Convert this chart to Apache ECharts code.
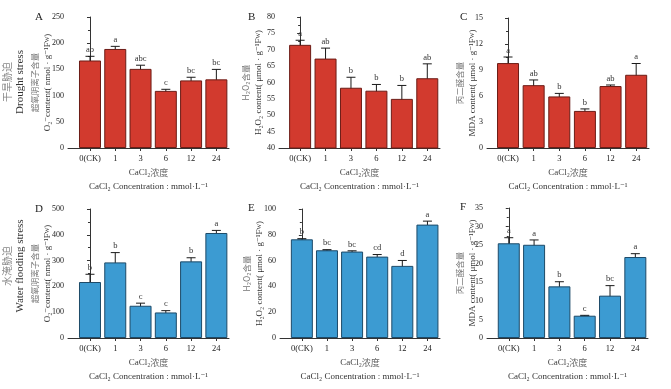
<!DOCTYPE html>
<html><head><meta charset="utf-8">
<script src="https://cdn.jsdelivr.net/npm/echarts@6/dist/echarts.min.js"></script>
<style>html,body{margin:0;padding:0;background:#fff}#c{width:671px;height:389px}</style>
</head><body><div id="c"></div>
<script>
// ---- data ----
const categories = ['0(CK)', '1', '3', '6', '12', '24'];

const droughtO2 = [167, 189, 151, 109, 129, 131];
const droughtO2Err = [8, 5, 7, 3, 6, 19];
const droughtO2Sig = ['ab', 'a', 'abc', 'c', 'bc', 'bc'];

const droughtH2O2 = [71.5, 67.3, 58.4, 57.5, 55.0, 61.3];
const droughtH2O2Err = [1.4, 3.2, 3.2, 1.9, 4.1, 4.4];
const droughtH2O2Sig = ['a', 'ab', 'b', 'b', 'b', 'ab'];

const droughtMDA = [9.8, 7.25, 5.95, 4.28, 7.15, 8.45];
const droughtMDAErr = [0.7, 0.6, 0.35, 0.23, 0.12, 1.3];
const droughtMDASig = ['a', 'ab', 'b', 'b', 'ab', 'a'];

const floodO2 = [217, 293, 125, 99, 297, 407];
const floodO2Err = [30, 38, 10, 7, 14, 10];
const floodO2Sig = ['b', 'b', 'c', 'c', 'b', 'a'];

const floodH2O2 = [76.5, 68.0, 67.0, 63.1, 55.9, 87.9];
const floodH2O2Err = [0.5, 0.5, 0.6, 1.6, 4.2, 2.7];
const floodH2O2Sig = ['b', 'bc', 'bc', 'cd', 'd', 'a'];

const floodMDA = [25.5, 25.1, 13.9, 6.0, 11.4, 21.8];
const floodMDAErr = [1.5, 1.3, 1.25, 0.1, 2.7, 0.9];
const floodMDASig = ['a', 'a', 'b', 'c', 'bc', 'a'];

const panelLetters = ['A', 'B', 'C', 'D', 'E', 'F'];
const yNameCn = ['超氧阴离子含量', 'H₂O₂含量', '丙二醛含量', '超氧阴离子含量', 'H₂O₂含量', '丙二醛含量'];
const yNameEn = ['O₂⁻content( nmol · g⁻¹F', 'H₂O₂ content( μmol · g⁻¹F', 'MDA content( μmol · g⁻¹F',
                 'O₂⁻content( nmol · g⁻¹F', 'H₂O₂ content( μmol · g⁻¹F', 'MDA content( μmol · g⁻¹F'];
const yMin = [0, 40, 0, 0, 0, 0];
const yMax = [250, 80, 15, 500, 100, 35];
const yInterval = [50, 5, 3, 100, 20, 5];

// ---- layout / style ----
const RED = '#d23a2e', RED_BORDER = '#6b1c16';
const BLUE = '#3c9bd2', BLUE_BORDER = '#1d4a68';
const SERIF = '"Liberation Serif", "DejaVu Serif", serif';
const CJK = '"Noto Sans CJK SC", sans-serif';

const panels = [
  {vals: droughtO2, err: droughtO2Err, sig: droughtO2Sig, color: RED, border: RED_BORDER, left: 68, top: 17, width: 161, height: 131, xmin: -0.87, lx: 35, ly: 12, ng: 14},
  {vals: droughtH2O2, err: droughtH2O2Err, sig: droughtH2O2Sig, color: RED, border: RED_BORDER, left: 279, top: 17, width: 161, height: 131, xmin: -0.83, lx: 248, ly: 12, ng: 14},
  {vals: droughtMDA, err: droughtMDAErr, sig: droughtMDASig, color: RED, border: RED_BORDER, left: 487, top: 18, width: 162, height: 130, xmin: -0.82, lx: 460, ly: 12, ng: 8},
  {vals: floodO2, err: floodO2Err, sig: floodO2Sig, color: BLUE, border: BLUE_BORDER, left: 68, top: 209, width: 161, height: 129, xmin: -0.87, lx: 35, ly: 204, ng: 14},
  {vals: floodH2O2, err: floodH2O2Err, sig: floodH2O2Sig, color: BLUE, border: BLUE_BORDER, left: 280, top: 209, width: 160, height: 129, xmin: -0.87, lx: 248, ly: 203, ng: 14},
  {vals: floodMDA, err: floodMDAErr, sig: floodMDASig, color: BLUE, border: BLUE_BORDER, left: 487, top: 208, width: 161, height: 130, xmin: -0.86, lx: 460, ly: 202, ng: 8}
];

const grid = [], xAxis = [], yAxis = [], series = [], graphic = [];
const idx = [0, 1, 2, 3, 4, 5];

panels.forEach(function (p, k) {
  grid.push({left: p.left, top: p.top, width: p.width, height: p.height, containLabel: false});
  xAxis.push({
    type: 'value', gridIndex: k, min: p.xmin, max: 5.5,
    splitLine: {show: false},
    axisLine: {show: true, lineStyle: {color: '#333', width: 1}},
    axisTick: {show: true, customValues: idx, length: 3, inside: false, lineStyle: {color: '#333'}},
    axisLabel: {customValues: idx, formatter: function (v) { return categories[Math.round(v)]; },
      color: '#222', fontFamily: SERIF, fontSize: 8.5, margin: 6},
    name: '{en|CaCl₂}{cn|浓度}\n{en2|CaCl₂ Concentration : mmol·L⁻¹}',
    nameLocation: 'middle', nameGap: 18, nameMoveOverlap: false,
    nameTextStyle: {lineHeight: 14, rich: {
      en: {fontFamily: SERIF, fontSize: 9, color: '#444'},
      cn: {fontFamily: CJK, fontSize: 9, color: '#666'},
      en2: {fontFamily: SERIF, fontSize: 9, color: '#333'}
    }}
  });
  yAxis.push({
    type: 'value', gridIndex: k, min: yMin[k], max: yMax[k], interval: yInterval[k],
    splitLine: {show: false},
    axisLine: {show: true, lineStyle: {color: '#333', width: 1}},
    axisTick: {show: true, length: 3, lineStyle: {color: '#333'}},
    minorTick: {show: true, splitNumber: 2, length: 2, lineStyle: {color: '#333'}},
    axisLabel: {color: '#222', fontFamily: SERIF, fontSize: 8, margin: 4},
    name: '{cn|' + yNameCn[k] + '}\n{en|' + yNameEn[k] + '}{sub|W}{en|)}',
    nameLocation: 'middle', nameGap: p.ng, nameRotate: 90, nameMoveOverlap: false,
    nameTextStyle: {lineHeight: 13, rich: {
      cn: {fontFamily: CJK, fontSize: 8.5, color: '#777'},
      en: {fontFamily: SERIF, fontSize: 9, color: '#333'},
      sub: {fontFamily: SERIF, fontSize: 6, color: '#333'}
    }}
  });
  series.push({
    type: 'bar', xAxisIndex: k, yAxisIndex: k, barWidth: 22,
    data: p.vals.map(function (v, i) { return [i, v]; }),
    itemStyle: {color: p.color, borderColor: p.border, borderWidth: 1},
    silent: true, animation: false
  });
  series.push({
    type: 'custom', xAxisIndex: k, yAxisIndex: k, animation: false, silent: true,
    data: p.vals.map(function (v, i) { return [i, v, p.err[i]]; }),
    encode: {x: 0, y: 1},
    renderItem: function (params, api) {
      const x = api.value(0), v = api.value(1), e = api.value(2);
      const top = api.coord([x, v + e]);
      const bot = api.coord([x, v - e]);
      const h = 4.5;
      const st = {stroke: '#1a1a1a', lineWidth: 1};
      return {type: 'group', children: [
        {type: 'line', shape: {x1: top[0], y1: top[1], x2: bot[0], y2: bot[1]}, style: st},
        {type: 'line', shape: {x1: top[0] - h, y1: top[1], x2: top[0] + h, y2: top[1]}, style: st},
        {type: 'line', shape: {x1: bot[0] - h, y1: bot[1], x2: bot[0] + h, y2: bot[1]}, style: st},
        {type: 'text', x: top[0], y: top[1] - 2, style: {text: p.sig[params.dataIndex], align: 'center', verticalAlign: 'bottom',
          font: '8.5px ' + SERIF, fill: '#333'}}
      ]};
    }
  });
  graphic.push({type: 'text', left: p.lx, top: p.ly, style: {text: panelLetters[k], font: '11px ' + SERIF, fill: '#222'}});
});

// side stress labels
graphic.push({type: 'text', x: 7, y: 82, rotation: Math.PI / 2,
  style: {text: '干旱胁迫', font: '10px ' + CJK, fill: '#888', align: 'center', verticalAlign: 'middle'}});
graphic.push({type: 'text', x: 20, y: 82, rotation: Math.PI / 2,
  style: {text: 'Drought stress', font: '11px ' + SERIF, fill: '#333', align: 'center', verticalAlign: 'middle'}});
graphic.push({type: 'text', x: 7, y: 266, rotation: Math.PI / 2,
  style: {text: '水淹胁迫', font: '10px ' + CJK, fill: '#888', align: 'center', verticalAlign: 'middle'}});
graphic.push({type: 'text', x: 20, y: 266, rotation: Math.PI / 2,
  style: {text: 'Water flooding stress', font: '11px ' + SERIF, fill: '#333', align: 'center', verticalAlign: 'middle'}});

const chart = echarts.init(document.getElementById('c'), null, {renderer: 'canvas'});
chart.setOption({
  backgroundColor: '#fff',
  animation: false,
  grid: grid, xAxis: xAxis, yAxis: yAxis, series: series, graphic: graphic
});
</script>
</body></html>
